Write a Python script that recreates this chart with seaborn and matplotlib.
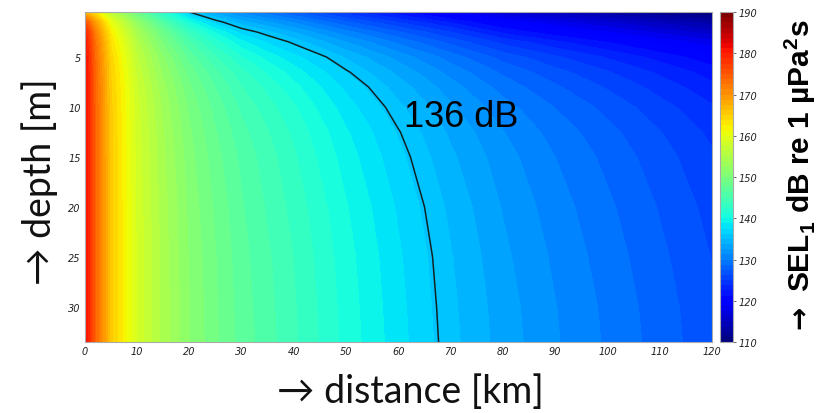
import matplotlib
matplotlib.use("Agg")
import matplotlib.pyplot as plt
import numpy as np
import pandas as pd
import seaborn as sns

# grid: SEL1 [dB re 1 uPa^2 s] per depth row and distance column
distance_km = [0, 1, 2, 5, 10, 15, 20, 25, 30, 35, 40, 45, 50, 55, 60, 65, 70, 80, 90, 100, 110, 120]
depth_m = [0.5, 1.5, 2.5, 3.5, 5, 6.5, 8, 10, 12.5, 15, 20, 25, 30, 33.5]

sel_z0_5 = [166, 165, 163, 156, 148, 141.5, 136, 133, 130.8, 129.2, 127.6, 125.9, 124.3, 122.9, 121.5, 120.2, 118.9, 116.4, 114.6, 113, 111.4, 110]
sel_z1_5 = [176, 172.5, 169, 160.2, 152, 145.7, 140.3, 136.7, 134.2, 132.6, 131, 129.3, 127.7, 126.3, 124.9, 123.6, 122.3, 119.7, 117.9, 116.3, 114.7, 113.1]
sel_z2_5 = [180, 175.8, 171.5, 162.3, 154, 148.3, 143.3, 139.8, 137, 135.3, 133.7, 132, 130.4, 129, 127.6, 126.3, 125, 122.2, 120.4, 118.8, 117.2, 115.6]
sel_z3_5 = [181, 176.9, 172.7, 163.5, 155.2, 149.7, 145.1, 141.8, 139.1, 137.3, 135.7, 134.1, 132.5, 131.1, 129.7, 128.4, 127.1, 124.6, 122.8, 121.2, 119.6, 118]
sel_z5 = [181.7, 177.6, 173.4, 164.4, 156.4, 151.3, 147, 143.9, 141.3, 139.5, 137.9, 136.4, 134.8, 133.4, 132, 130.7, 129.4, 127, 125.2, 123.6, 122, 120.4]
sel_z6_5 = [182, 177.9, 173.7, 164.9, 157.1, 152.2, 148.2, 145.3, 142.8, 141, 139.4, 137.8, 136.2, 134.8, 133.4, 132.1, 130.8, 128.5, 126.7, 125.1, 123.5, 121.9]
sel_z8 = [182, 178, 173.9, 165.1, 157.6, 152.9, 149, 146.2, 143.8, 142.1, 140.4, 138.8, 137.2, 135.8, 134.4, 133.1, 131.8, 129.5, 127.7, 126.1, 124.5, 122.9]
sel_z10 = [182, 178, 174, 165.3, 157.9, 153.4, 149.7, 147, 144.7, 143, 141.4, 139.7, 138.1, 136.7, 135.3, 134, 132.7, 130.5, 128.7, 127.1, 125.5, 123.9]
sel_z12_5 = [182, 178, 174, 165.4, 158.1, 153.8, 150.2, 147.6, 145.4, 143.8, 142.2, 140.5, 138.9, 137.5, 136.1, 134.8, 133.5, 131.3, 129.5, 127.9, 126.3, 124.7]
sel_z15 = [182, 178, 174, 165.5, 158.2, 154, 150.5, 148, 145.9, 144.3, 142.7, 141, 139.4, 138, 136.6, 135.3, 134, 131.8, 130, 128.4, 126.8, 125.2]
sel_z20 = [182, 178, 174, 165.5, 158.4, 154.3, 150.9, 148.5, 146.4, 144.8, 143.3, 141.7, 140.1, 138.7, 137.3, 136, 134.7, 132.4, 130.6, 129, 127.4, 125.8]
sel_z25 = [182, 178, 174, 165.5, 158.5, 154.4, 151.1, 148.8, 146.7, 145.2, 143.7, 142.1, 140.5, 139.1, 137.7, 136.4, 135.1, 132.8, 131, 129.4, 127.8, 126.2]
sel_z30 = [182, 178, 174, 165.5, 158.5, 154.5, 151.3, 148.9, 146.9, 145.4, 143.9, 142.3, 140.7, 139.3, 137.9, 136.6, 135.3, 133.1, 131.3, 129.7, 128.1, 126.5]
sel_z33_5 = [182, 178, 174, 165.5, 158.5, 154.5, 151.3, 149, 147, 145.5, 144, 142.4, 140.8, 139.4, 138, 136.7, 135.4, 133.2, 131.4, 129.8, 128.2, 126.6]

threshold_db = 136
cbar_ticks = [110, 120, 130, 140, 150, 160, 170, 180, 190]

df = pd.DataFrame(
    [sel_z0_5, sel_z1_5, sel_z2_5, sel_z3_5, sel_z5, sel_z6_5, sel_z8, sel_z10,
     sel_z12_5, sel_z15, sel_z20, sel_z25, sel_z30, sel_z33_5],
    index=depth_m,
    columns=distance_km,
)

sns.set_theme(style="ticks")
plt.rcParams["mathtext.fontset"] = "custom"
plt.rcParams["mathtext.bf"] = "Liberation Sans:bold"
plt.rcParams["mathtext.rm"] = "Liberation Sans:bold"

fig = plt.figure(figsize=(8.24, 4.14), dpi=100)
ax = fig.add_axes([0.103, 0.1715, 0.761, 0.797])
cax = fig.add_axes([0.874, 0.1715, 0.0155, 0.797])

# matlab-style jet with 64 colours
jet64 = plt.get_cmap("jet", 64)
levels = np.linspace(110, 190, 65)
X, Y = np.meshgrid(df.columns.values, df.index.values)
ax.contourf(X, Y, df.values, levels=levels, cmap=jet64, vmin=110, vmax=190)
ax.contour(X, Y, df.values, levels=[threshold_db], colors="#112222", linewidths=1.1)
ax.text(61.0, 10.9, f"{threshold_db} dB", fontsize=26, family="Liberation Sans",
        ha="left", va="center", color="black")

ax.set_xlim(0, 120)
ax.set_ylim(33.5, 0.5)
ax.set_xticks(range(0, 121, 10))
ax.set_yticks([5, 10, 15, 20, 25, 30])
ax.tick_params(direction="in", length=3, width=0.6, top=True, right=True,
               labelsize=7, labelcolor="#222222", color="#555555", pad=3)
for lab in ax.get_xticklabels() + ax.get_yticklabels():
    lab.set_fontstyle("italic")
for sp in ax.spines.values():
    sp.set_color("#aaaaaa")
    sp.set_linewidth(0.8)

sm = plt.cm.ScalarMappable(cmap=jet64, norm=plt.Normalize(110, 190))
cb = fig.colorbar(sm, cax=cax, ticks=cbar_ticks)
cb.outline.set_edgecolor("#aaaaaa")
cb.outline.set_linewidth(0.8)
cax.tick_params(direction="out", length=2.5, width=0.6, labelsize=7,
                labelcolor="#222222", color="#555555", pad=1.5)
for lab in cax.get_yticklabels():
    lab.set_fontstyle("italic")

fig.text(0.048, 0.56, "\u2192 depth [m]", rotation=90, ha="center", va="center",
         fontsize=27, family=["Lato", "DejaVu Sans"], color="#111111")
fig.text(0.4976, 0.053, "\u2192 distance [km]", ha="center", va="center",
         fontsize=27, family=["Lato", "DejaVu Sans"], color="#111111")
fig.text(0.971, 0.623, "SEL$_1$ dB re 1 \u00b5Pa$^2$s",
         rotation=90, ha="center", va="center", fontsize=21.5, fontweight="bold",
         family="Liberation Sans", color="black")
fig.text(0.971, 0.234, "\u2192", rotation=90, ha="center", va="center",
         fontsize=20, fontweight="bold", family="DejaVu Sans", color="black")

fig.savefig("out.png", dpi=100)
